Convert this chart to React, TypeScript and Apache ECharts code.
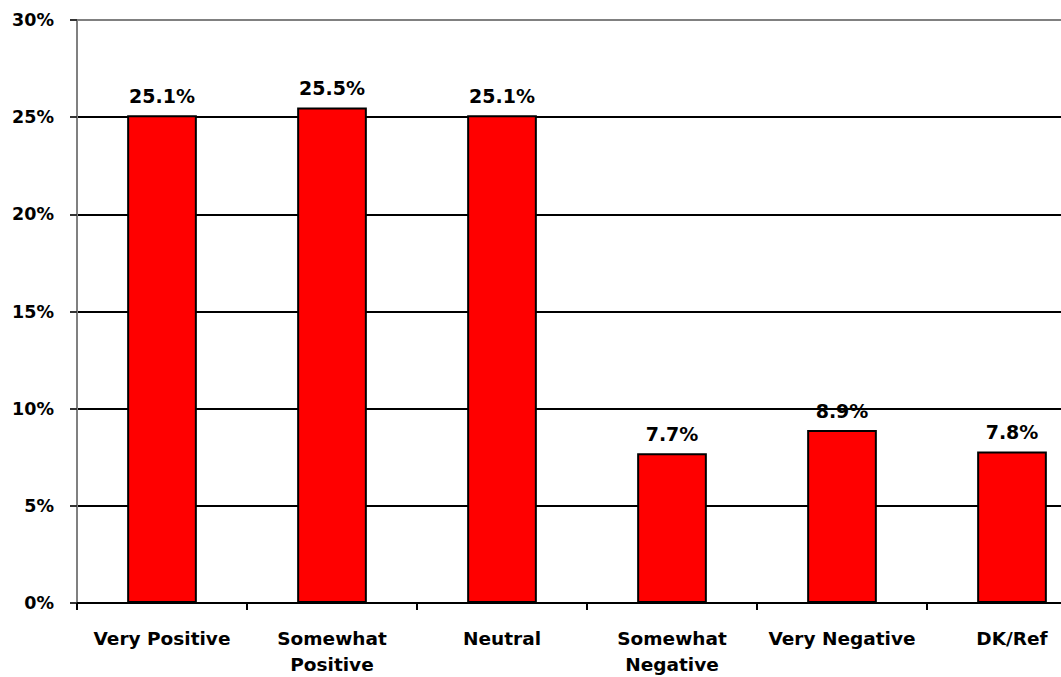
import React, { useEffect, useRef } from "react";
import * as echarts from "echarts";

const categories = ["Very Positive", "Somewhat\nPositive", "Neutral", "Somewhat\nNegative", "Very Negative", "DK/Ref"];
const values = [25.1, 25.5, 25.1, 7.7, 8.9, 7.8];
const yTicks = [0, 5, 10, 15, 20, 25, 30];

const FONT = "'DejaVu Sans', 'Liberation Sans', Arial, sans-serif";

export default function App() {
  const ref = useRef<HTMLDivElement>(null);
  useEffect(() => {
    if (!ref.current) return;
    const chart = echarts.init(ref.current, undefined, { renderer: "svg" });
    chart.setOption({
      animation: false,
      backgroundColor: "#ffffff",
      grid: { left: 77, right: 3, top: 20, bottom: 72, containLabel: false },
      xAxis: {
        type: "category",
        data: categories,
        boundaryGap: true,
        axisLine: { lineStyle: { color: "#000", width: 2 } },
        axisTick: { show: true, length: 7, inside: false, lineStyle: { color: "#000", width: 2 } },
        axisLabel: {
          color: "#000",
          fontFamily: FONT,
          fontWeight: "bold",
          fontSize: 18.5,
          margin: 22,
          lineHeight: 26,
          interval: 0,
        },
      },
      yAxis: {
        type: "value",
        min: yTicks[0],
        max: yTicks[yTicks.length - 1],
        interval: 5,
        axisLine: { show: true, lineStyle: { color: "#808080", width: 2 } },
        axisTick: { show: true, length: 7, lineStyle: { color: "#333", width: 2 } },
        axisLabel: {
          color: "#000",
          fontFamily: FONT,
          fontWeight: "bold",
          fontSize: 17.5,
          margin: 23,
          formatter: (v: number) => `${v}%`,
        },
        splitLine: {
          show: true,
          lineStyle: {
            color: ["#000", "#000", "#000", "#000", "#000", "#000", "#808080"],
            width: 2,
          },
        },
      },
      series: [
        {
          type: "bar",
          data: values,
          barWidth: "41%",
          itemStyle: { color: "#FF0000", borderColor: "#000", borderWidth: 2 },
          label: {
            show: true,
            position: "top",
            distance: 10,
            color: "#000",
            fontFamily: FONT,
            fontWeight: "bold",
            fontSize: 19,
            formatter: (p: any) => `${p.value.toFixed(1)}%`,
          },
        },
      ],
    });
    return () => chart.dispose();
  }, []);
  return (
    <div style={{ position: "fixed", left: 0, top: 0, width: 1061, height: 677, overflow: "hidden", background: "#fff" }}>
      <div ref={ref} style={{ width: 1100, height: 677 }} />
    </div>
  );
}
